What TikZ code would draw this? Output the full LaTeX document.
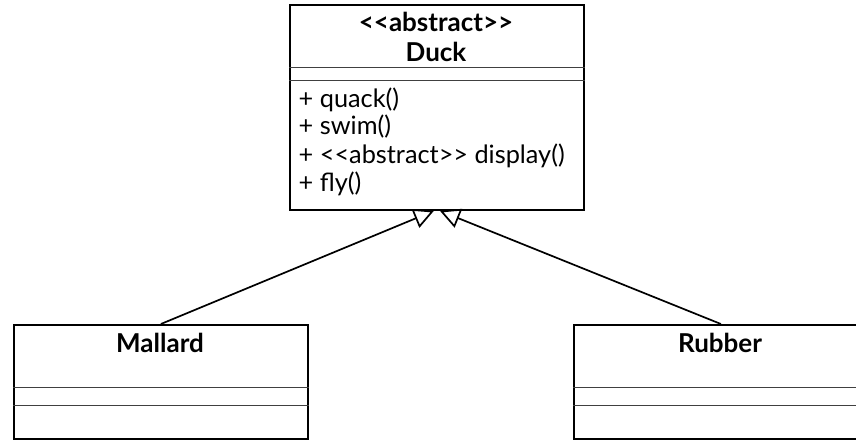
\documentclass[tikz,border=0pt]{standalone}
\usepackage{fontspec}
\setmainfont{Lato}
\usetikzlibrary{arrows.meta}
% keep the guillemet mapping from turning << and >> into single glyphs
\newcommand\stlt{<\kern0pt<}
\newcommand\stgt{>\kern0pt>}

\begin{document}
\begin{tikzpicture}[x=1pt,y=-1pt,
  classbox/.style={draw=black, line width=1.8pt, fill=white, minimum width=294pt,
    anchor=north west, inner sep=0pt},
  divider/.style={draw=black!75, line width=0.9pt},
  member/.style={anchor=base west, inner sep=0pt, font=\fontsize{25.3}{25}\selectfont},
  classname/.style={anchor=base, inner sep=0pt, font=\fontsize{26}{26}\selectfont\bfseries},
  inherit/.style={line width=1.7pt,
    -{Triangle[open, length=20pt, width=20pt, line width=1.7pt]}}
]
\clip (0,0) rectangle (856,441);

% class boxes
\node[classbox, minimum height=205pt] (duck) at (289,4) {};
\node[classbox, minimum height=114pt] (mallard) at (13,324) {};
\node[classbox, minimum height=114pt] (rubber) at (573,324) {};

% compartments
\draw[divider] (duck.west |- 0,67) -- (duck.east |- 0,67);
\draw[divider] (duck.west |- 0,80) -- (duck.east |- 0,80);
\draw[divider] (mallard.west |- 0,387) -- (mallard.east |- 0,387);
\draw[divider] (mallard.west |- 0,405) -- (mallard.east |- 0,405);
\draw[divider] (rubber.west |- 0,387) -- (rubber.east |- 0,387);
\draw[divider] (rubber.west |- 0,405) -- (rubber.east |- 0,405);

% names
\node[classname] (duckstereo) at (436,32) {\stlt abstract\stgt};
\node[classname] (duckname) at (436,62) {Duck};
\node[classname] (mallardname) at (160,352) {Mallard};
\node[classname] (rubbername) at (720,352) {Rubber};

% operations
\node[member] (op1) at (298.5,107) {+ quack()};
\node[member] (op2) at (298.5,135) {+ swim()};
\node[member] (op3) at (298.5,163) {+ \stlt abstract\stgt{} display()};
\node[member] (op4) at (298.5,191) {+ fly()};

% generalisation
\draw[inherit] (mallard.north) -- ([xshift=-3pt]duck.south);
\draw[inherit] (rubber.north) -- ([xshift=3pt]duck.south);
\end{tikzpicture}
\end{document}
